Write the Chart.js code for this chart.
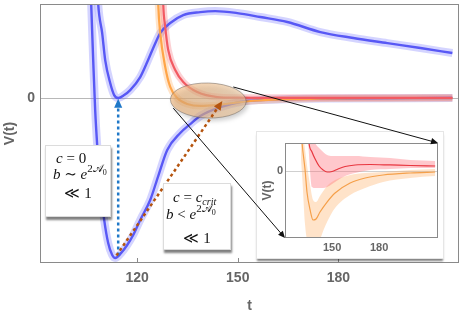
<!DOCTYPE html>
<html>
<head>
<meta charset="utf-8">
<script src="https://cdn.jsdelivr.net/npm/chart.js@4.4.1/dist/chart.umd.min.js"></script>
<style>
  body { margin: 0; background: #fff; }
  #wrap { position: relative; width: 463px; height: 317px; overflow: hidden; }
  #main { position: absolute; left: 0; top: 0; }
  .box { position: absolute; background: #fff; border: 1px solid #dcdcdc; box-shadow: 1px 3px 2px rgba(0,0,0,0.5);
         font-family: "Liberation Serif", "DejaVu Serif", serif; font-size: 15px; color: #111; }
  .box div { position: absolute; white-space: nowrap; line-height: 18px; }
  .box .mid { left: 0; width: 100%; text-align: center; }
  .sup { font-size: 11px; position: relative; top: -7px; }
  .sub { font-size: 8px; position: relative; top: 3px; }
  #inset { position: absolute; left: 257px; top: 132px; width: 186px; height: 126px; background: #fff;
           box-shadow: 0 0 0 1px #e6e6e6, 0 3px 2px rgba(0,0,0,0.5); }
  #insetCanvas { position: absolute; left: 0; top: 0; }
  #overlay { position: absolute; left: 0; top: 0; pointer-events: none; }
</style>
</head>
<body>
<div id="wrap">
  <canvas id="main" width="463" height="317"></canvas>
  <div class="box" style="left:45px;top:145px;width:64px;height:70px;">
    <div style="left:10px;top:3px;"><i>c</i> = 0</div>
    <div style="left:7px;top:19px;"><i>b</i> ∼ <i>e</i><span class="sup">2𝒜<span class="sub">0</span></span></div>
    <div class="mid" style="top:38px;">≪ 1</div>
  </div>
  <div class="box" style="left:163px;top:183px;width:66px;height:65px;">
    <div style="left:9px;top:4px;"><i>c</i> = <i>c</i><span class="sub" style="font-size:10px;"><i>crit</i></span></div>
    <div style="left:2px;top:21px;"><i>b</i> &lt; <i>e</i><span class="sup">2𝒜<span class="sub">0</span></span></div>
    <div class="mid" style="top:45px;">≪ 1</div>
  </div>
  <div id="inset"><canvas id="insetCanvas" width="186" height="126"></canvas></div>
  <canvas id="overlay" width="463" height="317"></canvas>
</div>
<script>
// main panel
const xTicks = [120, 150, 180];
const yTicks = [0];

const blueUpperT = [107.76, 108.36, 109.55, 110.45, 111.94, 113.13, 114.33, 116.12, 117.91, 120.9, 122.99, 124.78, 126.87, 129.85, 133.73, 138.81, 143.28, 149.85, 156.72, 164.78, 174.63, 184.48, 194.63, 204.48, 214.03];
const blueUpperV = [0.84, 0.57, 0.394, 0.23, 0.091, 0.018, 0, 0.018, 0.048, 0.127, 0.218, 0.303, 0.394, 0.455, 0.503, 0.521, 0.527, 0.515, 0.491, 0.461, 0.4, 0.364, 0.333, 0.303, 0.273];

const blueLowerT = [105.9, 106.27, 106.87, 107.46, 108.06, 108.96, 110.15, 111.34, 112.54, 113.43, 115.22, 117.01, 118.81, 120.9, 123.88, 126.27, 128.96, 132.84, 135.82, 138.81, 144.78, 150.75, 156.72, 165.67, 177.61, 214.03];
const blueLowerV = [0.8, 0.57, 0.23, -0.073, -0.285, -0.527, -0.739, -0.879, -0.952, -0.97, -0.939, -0.891, -0.83, -0.739, -0.618, -0.473, -0.315, -0.212, -0.158, -0.109, -0.055, -0.024, -0.012, -0.006, -0.003, 0];

const redT = [127.4, 127.76, 128.36, 129.25, 131.34, 133.73, 137.91, 143.88, 149.85, 156.72, 170, 190, 214.03];
const redV = [0.85, 0.57, 0.43, 0.291, 0.17, 0.097, 0.036, 0.006, 0.002, 0.001, 0.001, 0.001, 0.001];

const orangeT = [125.9, 126.27, 126.87, 128.36, 129.85, 131.94, 134.93, 138.81, 143.88, 148.66, 153.73, 162.69, 174.63, 195, 214.03];
const orangeV = [0.85, 0.57, 0.394, 0.188, 0.067, 0, -0.036, -0.048, -0.042, -0.03, -0.018, -0.009, -0.003, -0.001, 0];

// inset panel
const insetTicks = [150, 180];

const insetRedT = [134.7, 135.3, 137.2, 139.2, 141.7, 144.3, 146.8, 150, 153.8, 158.3, 164.7, 174.3, 187, 199.8, 215.7];
const insetRedV = [0.612, 0.418, 0.284, 0.179, 0.075, 0.015, -0.015, -0.007, 0.03, 0.067, 0.09, 0.097, 0.09, 0.082, 0.075];
const insetRedHi = [1.06, 0.91, 0.537, 0.418, 0.343, 0.284, 0.239, 0.224, 0.224, 0.224, 0.224, 0.209, 0.194, 0.164, 0.149];
const insetRedLo = [0.463, 0.239, -0.239, -0.254, -0.254, -0.254, -0.239, -0.194, -0.134, -0.075, -0.03, 0.015, 0.03, 0.045, 0.045];

const insetOrangeT = [130.2, 130.9, 132.8, 134.0, 136.0, 137.9, 139.8, 142.3, 146.8, 151.9, 161.5, 171.1, 182.5, 199.8, 215.7];
const insetOrangeV = [0.687, 0.418, 0.015, -0.313, -0.582, -0.731, -0.716, -0.612, -0.463, -0.328, -0.179, -0.104, -0.06, -0.03, -0.015];
const insetOrangeHi = [0.91, 0.687, 0.313, 0.09, -0.209, -0.433, -0.463, -0.373, -0.224, -0.134, -0.06, -0.03, -0.015, 0.015, 0.03];
const insetOrangeLo = [0.164, -0.06, -0.806, -1.03, -1.254, -1.328, -1.254, -1.03, -0.761, -0.552, -0.358, -0.254, -0.164, -0.104, -0.075];

const pts = (ts, vs) => ts.map((t, i) => ({ x: t, y: vs[i] }));

function line(ts, vs, color, width) {
  return { data: pts(ts, vs), borderColor: color, borderWidth: width, pointRadius: 0, fill: false,
           cubicInterpolationMode: 'monotone', clip: 0 };
}

function arrow(ctx, x1, y1, x2, y2, color, width, dash, head) {
  const a = Math.atan2(y2 - y1, x2 - x1);
  const c = Math.cos(a), s = Math.sin(a);
  ctx.save();
  ctx.strokeStyle = color;
  ctx.fillStyle = color;
  ctx.lineWidth = width;
  ctx.setLineDash(dash);
  ctx.beginPath();
  ctx.moveTo(x1, y1);
  ctx.lineTo(x2 - c * head * 0.8, y2 - s * head * 0.8);
  ctx.stroke();
  ctx.setLineDash([]);
  ctx.beginPath();
  ctx.moveTo(x2, y2);
  ctx.lineTo(x2 - head * c + head * 0.45 * s, y2 - head * s - head * 0.45 * c);
  ctx.lineTo(x2 - head * c - head * 0.45 * s, y2 - head * s + head * 0.45 * c);
  ctx.closePath();
  ctx.fill();
  ctx.restore();
}

// chart.js pads the area by half a tick label; the reference has none
function noPad(s) {
  s.paddingTop = 0; s.paddingBottom = 0; s.paddingLeft = 0; s.paddingRight = 0;
}

const gray = '#666';
const tickFont = { family: '"Liberation Sans", Arial, sans-serif', size: 14, weight: 'bold' };

const frame = {
  id: 'frame',
  afterDraw(chart) {
    const { ctx, chartArea: a, scales } = chart;
    ctx.save();
    ctx.strokeStyle = '#8a8a8a';
    ctx.lineWidth = 1;
    ctx.strokeRect(a.left + 0.5, a.top + 0.5, a.right - a.left - 1, a.bottom - a.top - 1);
    if (chart.options.innerTicks) {
      ctx.beginPath();
      scales.x.ticks.forEach(t => {
        const x = Math.round(scales.x.getPixelForValue(t.value)) + 0.5;
        ctx.moveTo(x, a.bottom);
        ctx.lineTo(x, a.bottom - 5);
      });
      ctx.stroke();
    }
    ctx.restore();
  }
};

const marks = {
  id: 'marks',
  afterDatasetsDraw(chart) {
    const { ctx, scales: { x, y } } = chart;
    // highlight ellipse
    const cx = x.getPixelForValue(141.2), cy = y.getPixelForValue(-0.015);
    const rx = x.getPixelForValue(152.5) - cx, ry = y.getPixelForValue(-0.121) - cy;
    ctx.save();
    ctx.shadowColor = 'rgba(0,0,0,0.3)';
    ctx.shadowOffsetX = 2;
    ctx.shadowOffsetY = 3;
    ctx.shadowBlur = 4;
    const g = ctx.createLinearGradient(cx - rx, 0, cx + rx, 0);
    g.addColorStop(0, 'rgba(240,180,120,0.62)');
    g.addColorStop(1, 'rgba(236,200,160,0.62)');
    ctx.fillStyle = g;
    ctx.beginPath();
    ctx.ellipse(cx, cy, rx, ry, 0.03, 0, Math.PI * 2);
    ctx.fill();
    ctx.shadowColor = 'transparent';
    ctx.strokeStyle = 'rgba(120,110,100,0.7)';
    ctx.lineWidth = 0.8;
    ctx.stroke();
    ctx.restore();
    // dotted arrows from the minima
    arrow(ctx, x.getPixelForValue(114.33), y.getPixelForValue(-0.955), x.getPixelForValue(114.33), y.getPixelForValue(-0.005),
          '#1f78c8', 2.5, [3, 3], 9);
    arrow(ctx, x.getPixelForValue(113.8), y.getPixelForValue(-0.955), x.getPixelForValue(145.4), y.getPixelForValue(-0.018),
          '#b5540e', 2.5, [3, 3], 9);
  }
};

const blue = '#5858f5', blueHalo = 'rgba(100,100,255,0.28)';
const red = '#f25a62', redHalo = 'rgba(245,90,100,0.28)';
const orange = '#ffa548', orangeHalo = 'rgba(255,165,80,0.3)';

const mainChart = new Chart(document.getElementById('main'), {
  type: 'line',
  data: {
    datasets: [
      line(redT, redV, red, 2.2),
      line(orangeT, orangeV, orange, 2.2),
      line(blueUpperT, blueUpperV, blue, 2.4),
      line(blueLowerT, blueLowerV, blue, 2.4),
      line(redT, redV, redHalo, 7),
      line(orangeT, orangeV, orangeHalo, 7),
      line(blueUpperT, blueUpperV, blueHalo, 8),
      line(blueLowerT, blueLowerV, blueHalo, 8)
    ]
  },
  options: {
    responsive: false,
    animation: false,
    events: [],
    innerTicks: true,
    layout: { padding: { top: 4, right: 4, left: 0, bottom: 0 } },
    plugins: { legend: { display: false }, tooltip: { enabled: false } },
    scales: {
      x: {
        type: 'linear', min: 91, max: 216,
        afterBuildTicks: s => { s.ticks = xTicks.map(v => ({ value: v })); },
        afterFit: s => { s.height = 54; noPad(s); },
        grid: { display: false, drawTicks: false },
        border: { display: false },
        ticks: { padding: 7, font: tickFont, color: gray, maxRotation: 0 },
        title: { display: true, text: 't', font: tickFont, color: gray, padding: { top: 0, bottom: 2 } }
      },
      y: {
        type: 'linear', min: -1, max: 0.57,
        afterBuildTicks: s => { s.ticks = yTicks.map(v => ({ value: v })); },
        afterFit: s => { s.width = 40; noPad(s); },
        grid: { color: '#b8b8b8', drawTicks: false },
        border: { display: false },
        ticks: { padding: 5, font: tickFont, color: gray },
        title: { display: true, text: 'V(t)', font: tickFont, color: gray, padding: { top: 2, bottom: 0 } }
      }
    }
  },
  plugins: [frame, marks]
});

const insetFont = { family: '"Liberation Sans", Arial, sans-serif', size: 11, weight: 'bold' };

function band(ts, hi, lo, color) {
  return [
    { data: pts(ts, hi), borderWidth: 0, pointRadius: 0, backgroundColor: color, fill: '+1',
      cubicInterpolationMode: 'monotone', clip: 0 },
    { data: pts(ts, lo), borderWidth: 0, pointRadius: 0, fill: false,
      cubicInterpolationMode: 'monotone', clip: 0 }
  ];
}

const insetChart = new Chart(document.getElementById('insetCanvas'), {
  type: 'line',
  data: {
    datasets: [
      line(insetRedT, insetRedV, '#e8363f', 1.2),
      line(insetOrangeT, insetOrangeV, '#f5a04a', 1.2),
      ...band(insetRedT, insetRedHi, insetRedLo, 'rgba(255,110,120,0.38)'),
      ...band(insetOrangeT, insetOrangeHi, insetOrangeLo, 'rgba(255,175,100,0.35)')
    ]
  },
  options: {
    responsive: false,
    animation: false,
    events: [],
    layout: { padding: { top: 11, right: 5, left: 0, bottom: 0 } },
    plugins: { legend: { display: false }, tooltip: { enabled: false } },
    scales: {
      x: {
        type: 'linear', min: 120, max: 217.5,
        afterBuildTicks: s => { s.ticks = insetTicks.map(v => ({ value: v })); },
        afterFit: s => { s.height = 20; noPad(s); },
        grid: { display: false, drawTicks: false },
        border: { display: false },
        ticks: { padding: 3, font: insetFont, color: gray, maxRotation: 0 }
      },
      y: {
        type: 'linear', min: -1, max: 0.418,
        afterBuildTicks: s => { s.ticks = yTicks.map(v => ({ value: v })); },
        afterFit: s => { s.width = 28; noPad(s); },
        grid: { color: '#cfcfcf', drawTicks: false },
        border: { display: false },
        ticks: { padding: 2, font: insetFont, color: gray },
        title: { display: true, text: 'V(t)', font: { ...insetFont, size: 12 }, color: gray, padding: { top: 3, bottom: 0 } }
      }
    }
  },
  plugins: [frame]
});

// zoom arrows: from the highlighted region to the inset corners
function drawOverlay() {
  const ctx = document.getElementById('overlay').getContext('2d');
  const { x, y } = mainChart.scales;
  const box = document.getElementById('insetCanvas').getBoundingClientRect();
  const wrap = document.getElementById('wrap').getBoundingClientRect();
  const ia = insetChart.chartArea;
  const ox = box.left - wrap.left, oy = box.top - wrap.top;
  arrow(ctx, x.getPixelForValue(148.66), y.getPixelForValue(0.067), ox + ia.right, oy + ia.top, '#111', 1, [], 7);
  arrow(ctx, x.getPixelForValue(130.75), y.getPixelForValue(-0.061), ox + ia.left, oy + ia.bottom, '#111', 1, [], 7);
}
drawOverlay();
</script>
</body>
</html>
